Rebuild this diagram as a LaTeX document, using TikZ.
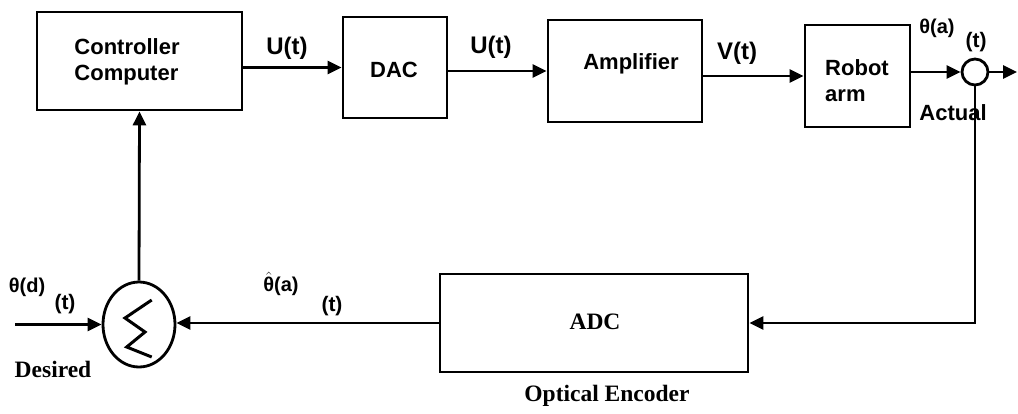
\documentclass[tikz,border=0pt]{standalone}
\usepackage{fontspec}
\setmainfont{Liberation Serif}
\setsansfont{Liberation Sans}
\usetikzlibrary{arrows.meta,shapes.geometric}
\tikzset{
  blk/.style={draw, line width=2.8pt, rectangle, inner sep=0pt},
  arr/.style={line width=2.8pt, -{Triangle[length=14pt,width=13pt]}},
  lbl/.style={font=\sffamily\bfseries\fontsize{22}{26}\selectfont, inner sep=0pt},
  sig/.style={font=\sffamily\bfseries\fontsize{24}{26}\selectfont, inner sep=0pt},
  th/.style={font=\sffamily\bfseries\fontsize{20}{22}\selectfont, inner sep=0pt},
  slbl/.style={font=\rmfamily\bfseries\fontsize{23.5}{26}\selectfont, inner sep=0pt},
  sub/.style={font=\sffamily\bfseries\fontsize{21}{24}\selectfont, inner sep=0pt}
}
\begin{document}
\begin{tikzpicture}[x=1pt,y=1pt]
\useasboundingbox (0,0) rectangle (1018,-413);
% blocks
\node[blk, minimum width=205pt, minimum height=98pt] (ctrl) at (139.5,-61) {};
\node[lbl, align=left] (ctrltxt) at (127,-62) {Controller\\Computer};
\node[blk, minimum width=104pt, minimum height=101pt] (dac) at (395,-67.5) {};
\node[lbl] (dactxt) at (394,-70) {DAC};
\node[blk, minimum width=154pt, minimum height=102pt] (amp) at (625,-71) {};
\node[lbl] (amptxt) at (631,-64) {Amplifier};
\node[blk, minimum width=105pt, minimum height=102pt] (robot) at (857.5,-76) {};
\node[lbl, align=left] (robottxt) at (857,-81) {Robot\\arm};
\node[draw, circle, line width=2.8pt, minimum size=26pt, inner sep=0pt] (circ) at (975,-72) {};
\node[blk, minimum width=308pt, minimum height=98pt] (adc) at (594,-323) {};
\node[slbl] (adctxt) at (595,-322) {ADC};
\node[slbl] (enc) at (607,-396) {Optical Encoder};
\node[draw, ellipse, line width=2.8pt, minimum width=72pt, minimum height=85pt, inner sep=0pt] (sum) at (139,-324.5) {};
\draw[line width=3pt, line join=miter] (151.7,-300) -- (125,-318) -- (145,-332) -- (126.7,-347) -- (151.7,-357);
% labels
\node[sig] (u1) at (287,-48) {U(t)};
\node[sig] (u2) at (491,-47) {U(t)};
\node[sig] (v) at (737,-53) {V(t)};
\node[th] (tha) at (937,-28) {θ(a)};
\node[sub] (that) at (976,-42) {(t)};
\node[lbl] (act) at (953,-113) {Actual};
\node[th] (thd) at (27,-287) {θ(d)};
\node[sub] (thdt) at (65,-304) {(t)};
\node[th] (thh) at (281,-284) {$\hat{\mbox{θ}}$(a)};
\node[sub] (thht) at (332,-306) {(t)};
\node[slbl] (des) at (53,-369) {Desired};
% coordinates
\coordinate (in) at (15,-324.5);
\coordinate (out) at (1017,-72);
% connectors
\draw[arr] (ctrl.east |- dac.west) -- (dac.west);
\draw[arr] (dac.east |- amp.west) -- (amp.west);
\draw[arr] (amp.east |- robot.west) -- (robot.west);
\draw[arr] (robot.east |- circ.west) -- (circ.west);
\draw[arr] (circ.east) -- (out);
\draw[arr] (circ.south) |- (adc.east);
\draw[arr] (adc.west) -- (adc.west -| sum.east);
\draw[arr] (in) -- (sum.west);
\draw[arr] (sum.north) -- (ctrl.south);
\end{tikzpicture}
\end{document}
